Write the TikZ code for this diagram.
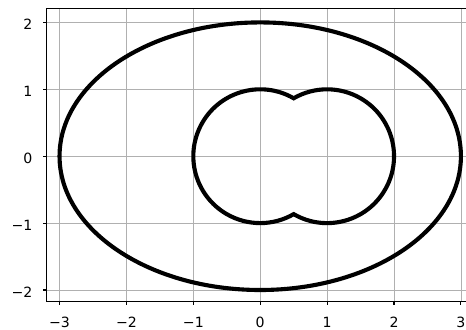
\documentclass[tikz,border=0pt]{standalone}
\usepackage{fontspec}
\setmainfont{DejaVu Sans}
\usepackage{tikz}
\definecolor{gridGray}{RGB}{176,176,176}

\begin{document}
\begin{tikzpicture}[x=1cm,y=1cm,
    curve/.style={line width=1.75pt, black},
    gridline/.style={gridGray, line width=0.35pt},
    spine/.style={black, line width=0.45pt},
    ticklabel/.style={font=\fontsize{6}{7}\selectfont, inner sep=0pt}]
    % Page size matched to the plot
    \useasboundingbox (-3.89,-2.583) rectangle (3.076,2.335);

    % Grid
    \foreach \x in {-3,...,3}
        \draw[gridline] (\x,-2.175) -- (\x,2.21);
    \foreach \y in {-2,...,2}
        \draw[gridline] (-3.19,\y) -- (3.076,\y);

    % Axes frame (right side lies off the page)
    \draw[spine] (3.076,2.21) -- (-3.19,2.21) -- (-3.19,-2.175) -- (3.076,-2.175);

    % Ticks and labels
    \foreach \x/\t in {-3/−3,-2/−2,-1/−1,0/0,1/1,2/2,3/3} {
        \draw[spine] (\x,-2.175) -- (\x,-2.228);
        \node[ticklabel, anchor=north] (xtick\x) at (\x,-2.40) {\t};
    }
    \foreach \y/\t in {-2/−2,-1/−1,0/0,1/1,2/2} {
        \draw[spine] (-3.19,\y) -- (-3.243,\y);
        \node[ticklabel, anchor=east] (ytick\y) at (-3.40,\y-0.03) {\t};
    }

    % Ellipse
    \draw[curve] (0,0) ellipse [x radius=3, y radius=2];

    % Two overlapping circles
    \draw[curve] (60:1) arc[start angle=60, end angle=300, radius=1]
        arc[start angle=240, end angle=480, radius=1] -- cycle;
\end{tikzpicture}
\end{document}
